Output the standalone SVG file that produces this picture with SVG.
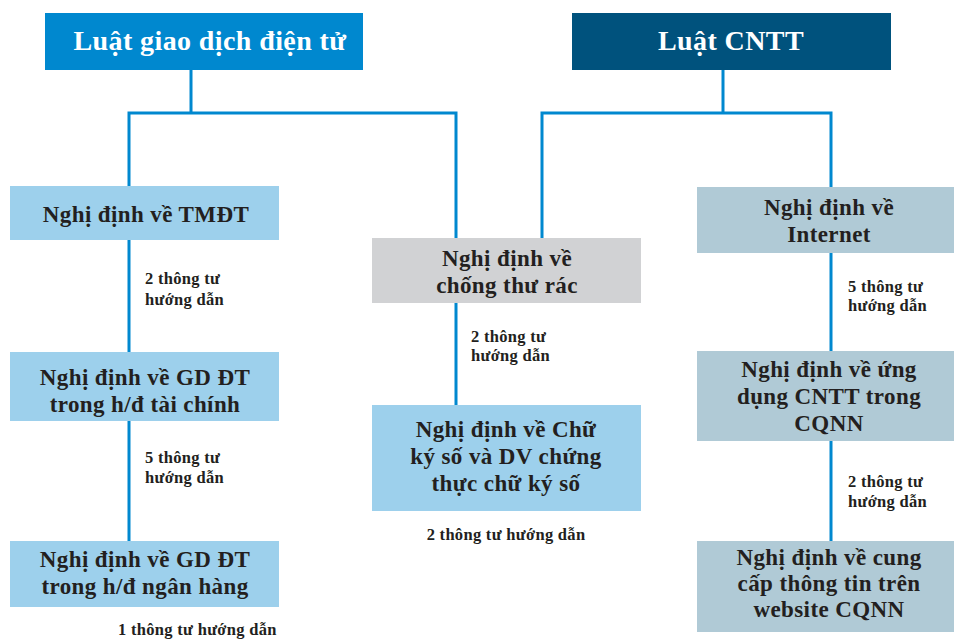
<svg xmlns="http://www.w3.org/2000/svg" width="955" height="642" viewBox="0 0 955 642">
<style>
.hd{font-family:"Liberation Serif","DejaVu Serif",serif;font-weight:bold;font-size:28px;letter-spacing:0.4px;fill:#ffffff;text-anchor:middle}
.bx{font-family:"Liberation Serif","DejaVu Serif",serif;font-weight:bold;font-size:23px;letter-spacing:0.4px;fill:#231f20;text-anchor:middle}
.lb{font-family:"Liberation Serif","DejaVu Serif",serif;font-weight:bold;font-size:16.5px;letter-spacing:0.3px;fill:#231f20}
.ln{stroke:#0088cf;stroke-width:3;fill:none}
.blue{fill:#9dd0ec}
.gray{fill:#d1d2d4}
.steel{fill:#b0cad6}
</style>
<rect width="955" height="642" fill="#ffffff"/>
<g id="connectors">
<path class="ln" d="M191 70V113M129 113H456M129 111.5V541M456 111.5V405"/>
<path class="ln" d="M723 70V113M542 113H831M542 111.5V238M831 111.5V541"/>
</g>
<g id="law-gddt">
<rect x="45" y="13" width="318" height="57" fill="#0088cf"/>
<text class="hd" x="210" y="50">Luật giao dịch điện tử</text>
</g>
<g id="law-cntt">
<rect x="572" y="13" width="319" height="57" fill="#00527d"/>
<text class="hd" x="731" y="50">Luật CNTT</text>
</g>
<g id="nd-tmdt">
<rect class="blue" x="10" y="186" width="269" height="54"/>
<text class="bx" x="146" y="222">Nghị định về TMĐT</text>
</g>
<g id="lb1"><text class="lb" x="145" y="284">2 thông tư</text><text class="lb" x="145" y="305">hướng dẫn</text></g>
<g id="nd-gd-tc">
<rect class="blue" x="10" y="352" width="269" height="69"/>
<text class="bx" x="145" y="385">Nghị định về GD ĐT</text>
<text class="bx" x="145" y="412">trong h/đ tài chính</text>
</g>
<g id="lb2"><text class="lb" x="145" y="463">5 thông tư</text><text class="lb" x="145" y="483">hướng dẫn</text></g>
<g id="nd-gd-nh">
<rect class="blue" x="10" y="541" width="269" height="66"/>
<text class="bx" x="145" y="567">Nghị định về GD ĐT</text>
<text class="bx" x="145" y="594">trong h/đ ngân hàng</text>
</g>
<g id="lb3"><text class="lb" x="118" y="635">1 thông tư hướng dẫn</text></g>
<g id="nd-thurac">
<rect class="gray" x="372" y="238" width="269" height="65"/>
<text class="bx" x="507" y="266">Nghị định về</text>
<text class="bx" x="507" y="293">chống thư rác</text>
</g>
<g id="lb4"><text class="lb" x="471" y="342">2 thông tư</text><text class="lb" x="471" y="361">hướng dẫn</text></g>
<g id="nd-chukyso">
<rect class="blue" x="372" y="405" width="269" height="106"/>
<text class="bx" x="506" y="437">Nghị định về Chữ</text>
<text class="bx" x="506" y="464">ký số và DV chứng</text>
<text class="bx" x="506" y="491">thực chữ ký số</text>
</g>
<g id="lb5"><text class="lb" x="506" y="540" text-anchor="middle">2 thông tư hướng dẫn</text></g>
<g id="nd-internet">
<rect class="steel" x="697" y="187" width="257" height="66"/>
<text class="bx" x="829" y="215">Nghị định về</text>
<text class="bx" x="829" y="242">Internet</text>
</g>
<g id="lb6"><text class="lb" x="848" y="292">5 thông tư</text><text class="lb" x="848" y="311">hướng dẫn</text></g>
<g id="nd-ungdung">
<rect class="steel" x="697" y="351" width="257" height="90"/>
<text class="bx" x="829" y="377">Nghị định về ứng</text>
<text class="bx" x="829" y="404">dụng CNTT trong</text>
<text class="bx" x="829" y="431">CQNN</text>
</g>
<g id="lb7"><text class="lb" x="848" y="487">2 thông tư</text><text class="lb" x="848" y="507">hướng dẫn</text></g>
<g id="nd-website">
<rect class="steel" x="697" y="541" width="257" height="91"/>
<text class="bx" x="829" y="565">Nghị định về cung</text>
<text class="bx" x="829" y="591">cấp thông tin trên</text>
<text class="bx" x="829" y="617">website CQNN</text>
</g>
</svg>
